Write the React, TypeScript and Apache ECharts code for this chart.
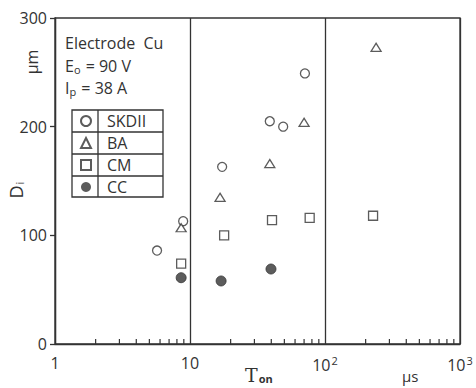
import React, { useEffect, useRef } from "react";
import * as echarts from "echarts";

const seriesNames = ["SKDII", "BA", "CM", "CC"];
const skdiiX = [5.7, 8.9, 17.3, 39, 49, 71];
const skdiiY = [86, 113, 163, 205, 200, 249];
const baX = [8.6, 16.7, 39, 70, 239];
const baY = [107, 135, 166, 204, 273];
const cmX = [8.6, 17.9, 40.5, 77, 227];
const cmY = [74, 100, 114, 116, 118];
const ccX = [8.6, 17, 39.8];
const ccY = [61, 58, 69];
const minorTicks = [2, 3, 4, 5, 6, 7, 8, 9, 20, 30, 40, 50, 60, 70, 80, 90, 200, 300, 400, 500, 600, 700, 800, 900];
const yTicks = [0, 100, 200, 300];

const INK = "#333";
const FONT = "Open Sans";

const zip = (xs: number[], ys: number[]) => xs.map((x, i) => [x, ys[i]]);

export default function App() {
  const ref = useRef<HTMLDivElement>(null);
  useEffect(() => {
    if (!ref.current) return;
    const chart = echarts.init(ref.current, null, { renderer: "svg" });
    const hollow = { color: "#fff", borderColor: INK, borderWidth: 1.3 };
    const option: any = {
      animation: false,
      backgroundColor: "#fff",
      grid: {
        left: 55,
        right: 16,
        top: 18,
        bottom: 44,
        show: true,
        borderColor: INK,
        borderWidth: 1.3,
        backgroundColor: "transparent",
      },
      xAxis: {
        type: "log",
        logBase: 10,
        min: 1,
        max: 1000,
        axisLine: { show: true, lineStyle: { color: INK, width: 1.3 } },
        axisTick: { show: false },
        splitLine: { show: true, lineStyle: { color: INK, width: 1.3 } },
        axisLabel: {
          color: INK,
          fontFamily: FONT,
          fontSize: 16,
          margin: 11,
          showMinLabel: true,
          showMaxLabel: true,
          formatter: (v: number) => {
            if (v === 1) return "1";
            if (v === 10) return "10";
            if (v === 100) return "10{sup|2}";
            return "10{sup|3}";
          },
          rich: {
            sup: { fontSize: 11, fontFamily: FONT, color: INK, verticalAlign: "top", padding: [0, 0, 8, 1] },
          },
        },
      },
      yAxis: {
        type: "value",
        min: 0,
        max: 300,
        interval: 100,
        axisLine: { show: true, lineStyle: { color: INK, width: 1.3 } },
        axisTick: { show: true, inside: false, length: 5, lineStyle: { color: INK, width: 1.3 } },
        splitLine: { show: false },
        axisLabel: {
          color: INK,
          fontFamily: FONT,
          fontSize: 16,
          margin: 8,
          formatter: (v: number) => (yTicks.includes(v) ? String(v) : ""),
        },
      },
      legend: {
        data: seriesNames,
        orient: "vertical",
        left: 80,
        top: 110,
        padding: 0,
        itemWidth: 10,
        itemHeight: 10,
        itemGap: 0,
        textStyle: { color: INK, fontFamily: FONT, fontSize: 16, lineHeight: 22, padding: [0, 0, 0, 11] },
      },
      graphic: [
        { type: "rect", shape: { x: 72, y: 110, width: 91, height: 87 }, style: { fill: "none", stroke: INK, lineWidth: 1.3 }, z: 10 },
        { type: "line", shape: { x1: 72, y1: 132, x2: 163, y2: 132 }, style: { stroke: INK, lineWidth: 1.3 }, z: 10 },
        { type: "line", shape: { x1: 72, y1: 154, x2: 163, y2: 154 }, style: { stroke: INK, lineWidth: 1.3 }, z: 10 },
        { type: "line", shape: { x1: 72, y1: 176, x2: 163, y2: 176 }, style: { stroke: INK, lineWidth: 1.3 }, z: 10 },
        { type: "line", shape: { x1: 98, y1: 110, x2: 98, y2: 197 }, style: { stroke: INK, lineWidth: 1.3 }, z: 10 },
        {
          type: "text", x: 65, y: 43, z: 10,
          style: { text: "Electrode  Cu", fill: INK, font: `16px "${FONT}"`, verticalAlign: "middle" },
        },
        {
          type: "text", x: 65, y: 66, z: 10,
          style: {
            text: "E{s|o} = 90 V", fill: INK, font: `16px "${FONT}"`, verticalAlign: "middle",
            rich: { s: { fontSize: 11, fontFamily: FONT, fill: INK, padding: [6, 1, 0, 0] } },
          },
        },
        {
          type: "text", x: 65, y: 88, z: 10,
          style: {
            text: "I{s|p} = 38 A", fill: INK, font: `16px "${FONT}"`, verticalAlign: "middle",
            rich: { s: { fontSize: 11, fontFamily: FONT, fill: INK, padding: [6, 1, 0, 0] } },
          },
        },
        {
          type: "text", x: 32, y: 62, rotation: Math.PI / 2, z: 10,
          style: { text: "μm", fill: INK, font: `16px "${FONT}"`, align: "center", verticalAlign: "middle" },
        },
        {
          type: "text", x: 16, y: 190, rotation: Math.PI / 2, z: 10,
          style: {
            text: "D{s|i}", fill: INK, font: `18px "${FONT}"`, align: "center", verticalAlign: "middle",
            rich: { s: { fontSize: 11, fontFamily: FONT, fill: INK, padding: [6, 0, 0, 1] } },
          },
        },
        {
          type: "text", x: 245, y: 375, z: 10,
          style: {
            text: "T{s|on}", fill: INK, font: `19px "DejaVu Serif"`, verticalAlign: "middle",
            rich: { s: { fontSize: 11, fontFamily: FONT, fontWeight: "bold", fill: INK, padding: [6, 0, 0, 1] } },
          },
        },
        {
          type: "text", x: 402, y: 376, z: 10,
          style: { text: "μs", fill: INK, font: `15px "${FONT}"`, verticalAlign: "middle" },
        },
      ],
      series: [
        {
          name: "SKDII", type: "scatter", symbol: "circle", symbolSize: 9,
          itemStyle: hollow, data: zip(skdiiX, skdiiY),
        },
        {
          name: "BA", type: "scatter", symbol: "triangle", symbolSize: [10, 8],
          itemStyle: hollow, data: zip(baX, baY),
        },
        {
          name: "CM", type: "scatter", symbol: "rect", symbolSize: 9,
          itemStyle: hollow, data: zip(cmX, cmY),
        },
        {
          name: "CC", type: "scatter", symbol: "circle", symbolSize: 10,
          itemStyle: { color: INK, borderColor: INK }, data: zip(ccX, ccY),
        },
        {
          name: "minor", type: "custom", silent: true,
          data: minorTicks.map((v) => [v, 0]),
          encode: { x: 0, y: 1 },
          renderItem: (params: any, api: any) => {
            const p = api.coord([api.value(0), 0]);
            return {
              type: "line",
              shape: { x1: p[0], y1: p[1], x2: p[0], y2: p[1] - 5 },
              style: { stroke: INK, lineWidth: 1.2 },
            };
          },
        },
      ],
    };
    chart.setOption(option);
    return () => chart.dispose();
  }, []);
  return <div ref={ref} style={{ width: 476, height: 388, position: "absolute", left: 0, top: 0 }} />;
}
